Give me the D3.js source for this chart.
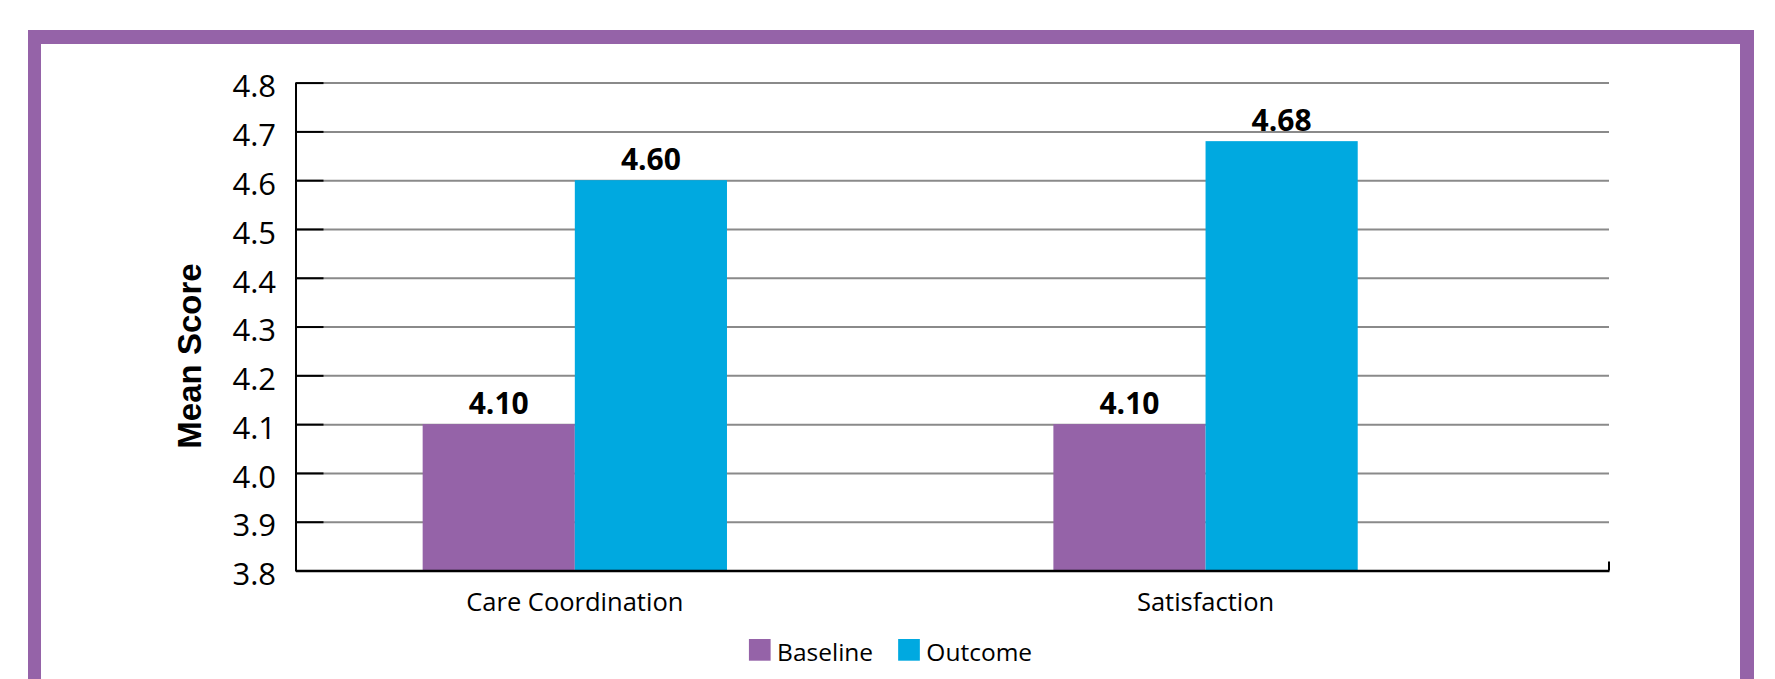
<!DOCTYPE html>
<html>
<head>
<meta charset="utf-8">
<script src="https://cdn.jsdelivr.net/npm/d3@7"></script>
<style>
  body { margin: 0; background: #fff; }
  svg { display: block; }
</style>
</head>
<body>
<svg id="chart" width="1775" height="679"></svg>
<script>
// data
const categories = ['Care Coordination', 'Satisfaction'];
const series = ['Baseline', 'Outcome'];
const baseline = [4.10, 4.10];
const outcome = [4.60, 4.68];
const yTicks = [3.8, 3.9, 4.0, 4.1, 4.2, 4.3, 4.4, 4.5, 4.6, 4.7, 4.8];

const colors = { Baseline: '#9563a8', Outcome: '#00a9e0' };
const purple = '#9563a8';

const rows = categories.map((c, i) => ({ category: c, Baseline: baseline[i], Outcome: outcome[i] }));

const svg = d3.select('#chart');

// purple frame, open at the bottom
svg.append('rect')
  .attr('x', 28).attr('y', 30)
  .attr('width', 1726).attr('height', 700)
  .style('fill', purple);
svg.append('rect')
  .attr('x', 41).attr('y', 44)
  .attr('width', 1699).attr('height', 700)
  .style('fill', '#fff');

const plot = { left: 295.5, right: 1609, top: 82.6, bottom: 570.5 };

const y = d3.scaleLinear()
  .domain([3.8, 4.8])
  .range([plot.bottom, plot.top]);

const x = d3.scaleBand()
  .domain(categories)
  .range([plot.left, plot.right])
  .paddingInner(0.5175)
  .paddingOuter(0.3)
  .align(0.336);

const xs = d3.scaleBand()
  .domain(series)
  .range([0, x.bandwidth()]);

// grid lines
svg.append('g')
  .attr('transform', `translate(${plot.left},0)`)
  .call(d3.axisRight(y).tickValues(yTicks.slice(1)).tickSize(plot.right - plot.left).tickFormat(''))
  .call((g) => g.select('.domain').remove())
  .call((g) => g.selectAll('line').style('stroke', '#8a8a8a').style('stroke-width', 2));

// bars
const groups = svg.selectAll('.group')
  .data(rows)
  .enter()
  .append('g')
  .attr('class', 'group')
  .attr('transform', (d) => `translate(${x(d.category)},0)`);

groups.selectAll('rect')
  .data((d) => series.map((s) => ({ key: s, value: d[s] })))
  .enter()
  .append('rect')
  .attr('x', (d) => xs(d.key))
  .attr('y', (d) => y(d.value))
  .attr('width', xs.bandwidth())
  .attr('height', (d) => y(3.8) - y(d.value))
  .style('fill', (d) => colors[d.key]);

groups.selectAll('.value')
  .data((d) => series.map((s) => ({ key: s, value: d[s] })))
  .enter()
  .append('text')
  .attr('class', 'value')
  .attr('text-anchor', 'middle')
  .attr('x', (d) => xs(d.key) + xs.bandwidth() / 2)
  .attr('y', (d) => y(d.value) - 10.5)
  .style('font-family', '"Open Sans", sans-serif')
  .style('font-weight', 700)
  .style('font-size', '30px')
  .style('fill', '#000')
  .text((d) => d.value.toFixed(2));

// y axis: ticks point inward, labels on the left
svg.append('g')
  .attr('transform', `translate(${plot.left},0)`)
  .call(d3.axisLeft(y).tickValues(yTicks).tickSize(-28).tickSizeOuter(0).tickPadding(19.5).tickFormat(d3.format('.1f')))
  .call((g) => g.selectAll('line').style('stroke', '#000').style('stroke-width', 2))
  .call((g) => g.select('.domain').style('stroke', '#000').style('stroke-width', 2))
  .call((g) => g.selectAll('text')
    .attr('dy', '0.46em')
    .style('font-family', '"Open Sans", sans-serif')
    .style('font-size', '31px')
    .style('fill', '#000'));

// x axis
svg.append('g')
  .attr('transform', `translate(0,${plot.bottom})`)
  .call(d3.axisBottom(x).tickSize(0).tickSizeOuter(0).tickPadding(22))
  .call((g) => g.select('.domain').style('stroke', '#000').style('stroke-width', 2.5))
  .call((g) => g.selectAll('text')
    .style('font-family', '"Open Sans", sans-serif')
    .style('font-size', '25.5px')
    .style('fill', '#000'));

// little closing tick at the right end of the x axis
svg.append('line')
  .attr('x1', x.range()[1]).attr('x2', x.range()[1])
  .attr('y1', plot.bottom).attr('y2', plot.bottom - 9)
  .style('stroke', '#000').style('stroke-width', 2);

// y axis title
svg.append('text')
  .attr('transform', `translate(201,356) rotate(-90)`)
  .attr('text-anchor', 'middle')
  .style('font-family', '"Liberation Sans", Arial, sans-serif')
  .style('font-weight', 700)
  .style('font-size', '33px')
  .style('fill', '#000')
  .text('Mean Score');

// legend, centred in the frame
const legend = svg.append('g');
const box = 21.7;
let lx = 0;
series.forEach((s) => {
  const item = legend.append('g').attr('transform', `translate(${lx},0)`);
  item.append('rect')
    .attr('x', 0).attr('y', -box)
    .attr('width', box).attr('height', box)
    .style('fill', colors[s]);
  const t = item.append('text')
    .attr('x', box + 6.5)
    .attr('y', 0)
    .style('font-family', '"Open Sans", sans-serif')
    .style('font-size', '24.5px')
    .style('fill', '#000')
    .text(s);
  lx += box + 6.5 + t.node().getComputedTextLength() + 25;
});
const legendWidth = lx - 25;
legend.attr('transform', `translate(${(41 + 1740) / 2 - legendWidth / 2},660.7)`);
</script>
</body>
</html>
